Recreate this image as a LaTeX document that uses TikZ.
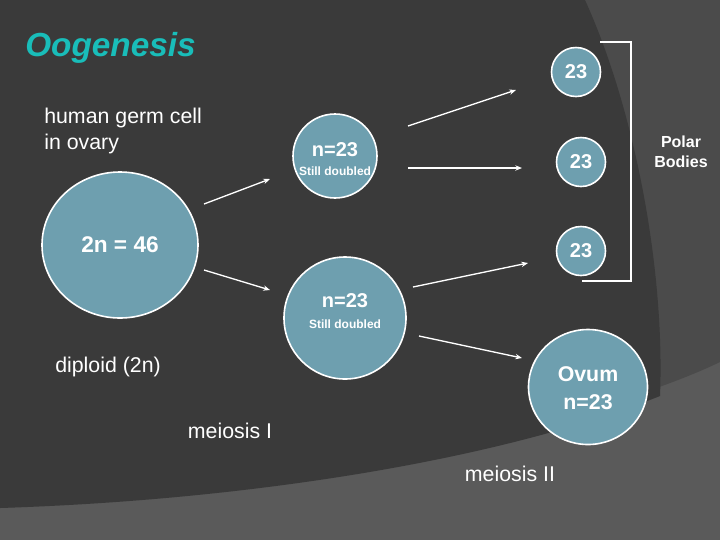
\documentclass[tikz,border=0pt]{standalone}
\usepackage{fontspec}
\setmainfont{Liberation Sans}
\usetikzlibrary{arrows.meta,shapes.geometric}
\begin{document}
\begin{tikzpicture}[x=0.75pt,y=-0.75pt,
  cell/.style={circle,draw=white,line width=1.2pt,fill=cellc,inner sep=0pt,text=white,align=center,font=\bfseries},
  arr/.style={draw=white,line width=1pt,-{Stealth[length=5pt,width=4pt]}},
  lbl/.style={text=white,font=\fontsize{16}{19}\selectfont,inner sep=0pt}]
\definecolor{cellc}{HTML}{6E9FAF}
\definecolor{dark}{HTML}{3A3A3A}
\definecolor{mid}{HTML}{4B4B4B}
\definecolor{light}{HTML}{5A5A5A}
\definecolor{teal}{HTML}{19BDB9}
\fill[light] (0,0) rectangle (720,540);
\fill[mid] (0,0) -- (720,0) -- (720,362) .. controls (600,420) and (300,490) .. (0,508) -- cycle;
\fill[dark] (0,0) -- (585,0) .. controls (635,110) and (665,270) .. (660,396) .. controls (500,460) and (250,500) .. (0,508) -- cycle;
\useasboundingbox (0,0) rectangle (720,540);
\node[anchor=west,text=teal,font=\fontsize{25}{30}\selectfont\bfseries\itshape,inner sep=0pt] (title) at (25,48) {Oogenesis};
\node[lbl,anchor=north west,align=left] (germ) at (44,108) {human germ cell\\in ovary};
\node[cell,ellipse,minimum width=156*0.75pt,minimum height=146*0.75pt] (big) at (120,245) {};
\node[text=white,font=\fontsize{17}{20}\selectfont\bfseries] at (big) {2n = 46};
\node[cell,minimum size=84*0.75pt] (u) at (335,156) {};
\node[text=white,font=\fontsize{15}{18}\selectfont\bfseries,inner sep=0pt] at (335,150) {n=23};
\node[text=white,font=\fontsize{9}{10}\selectfont\bfseries,inner sep=0pt] at (335,171) {Still doubled};
\node[cell,minimum size=122*0.75pt] (l) at (345,318) {};
\node[text=white,font=\fontsize{15}{18}\selectfont\bfseries,inner sep=0pt] at (345,301) {n=23};
\node[text=white,font=\fontsize{9}{10}\selectfont\bfseries,inner sep=0pt] at (345,324) {Still doubled};
\node[cell,minimum size=49*0.75pt,font=\fontsize{15}{18}\selectfont\bfseries] (p1) at (576,72) {23};
\node[cell,minimum size=49*0.75pt,font=\fontsize{15}{18}\selectfont\bfseries] (p2) at (581,162) {23};
\node[cell,minimum size=49*0.75pt,font=\fontsize{15}{18}\selectfont\bfseries] (p3) at (581,251) {23};
\node[cell,ellipse,minimum width=119*0.75pt,minimum height=115*0.75pt] (ov) at (588,387) {};
\node[text=white,font=\fontsize{16}{19}\selectfont\bfseries,inner sep=0pt] at (588,374) {Ovum};
\node[text=white,font=\fontsize{16}{19}\selectfont\bfseries,inner sep=0pt] at (588,402) {n=23};
\coordinate (a1) at (204,204); \coordinate (a1e) at (270,179);
\coordinate (a2) at (204,270); \coordinate (a2e) at (270,290);
\coordinate (a3) at (408,126); \coordinate (a3e) at (516,90);
\coordinate (a4) at (408,168); \coordinate (a4e) at (522,168);
\coordinate (a5) at (413,287); \coordinate (a5e) at (528,263);
\coordinate (a6) at (419,336); \coordinate (a6e) at (522,358);
\draw[arr] (a1) -- (a1e);
\draw[arr] (a2) -- (a2e);
\draw[arr] (a3) -- (a3e);
\draw[arr] (a4) -- (a4e);
\draw[arr] (a5) -- (a5e);
\draw[arr] (a6) -- (a6e);
\coordinate (b1) at (600,42); \coordinate (b2) at (631,42); \coordinate (b3) at (631,281); \coordinate (b4) at (582,281);
\draw[white,line width=1pt] (b1) -- (b2) -- (b3) -- (b4);
\node[text=white,font=\fontsize{12}{15}\selectfont\bfseries,align=center] (pb) at (681,152) {Polar\\Bodies};
\node[lbl,anchor=west] (dip) at (55,367) {diploid (2n)};
\node[lbl] (m1) at (230,431) {meiosis I};
\node[lbl] (m2) at (510,474) {meiosis II};
\end{tikzpicture}
\end{document}
